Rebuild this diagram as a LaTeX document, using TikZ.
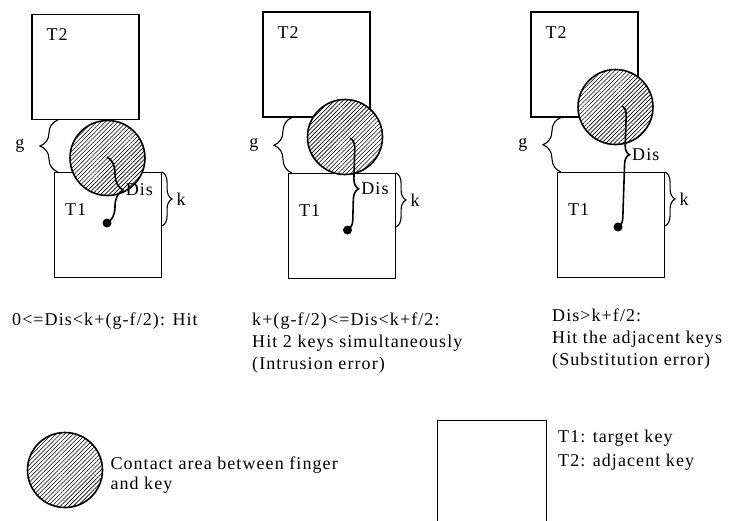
\documentclass[tikz,border=0pt]{standalone}
\usepackage{fontspec}
\newfontfamily\figfont[LetterSpace=6]{Liberation Serif}
\usetikzlibrary{positioning,patterns.meta,decorations.pathreplacing}

\begin{document}
\begin{tikzpicture}[x=1pt,y=-1pt,
  keybox/.style={draw,line width=1.1pt,minimum width=107pt,minimum height=105pt,inner sep=0pt},
  contact/.style={circle,draw,line width=1.6pt,minimum size=75pt,inner sep=0pt,preaction={fill=white},
    pattern={Lines[angle=45,distance=3pt,line width=0.6pt]}},
  fingerdot/.style={circle,fill,minimum size=9pt,inner sep=0pt},
  brc/.style={decorate,decoration={brace,amplitude=#1},line width=1.1pt},
  lbl/.style={font=\figfont\fontsize{18}{22}\selectfont,inner sep=0pt,align=left}]
\useasboundingbox (0,0) rectangle (730,520);
% three cases: T2 centre, T1 centre, contact centre, start of Dis, finger point, amplitude, aspect
\foreach \i/\tx/\ty/\kx/\ky/\cx/\cy/\px/\py/\dx/\dy/\a/\s in {
    1/85.5/67/108/225/107.5/158/107/157/107/223/16/0.5,
    2/316.5/64.5/342/226/345/137/350/138/347.5/230/10/0.55,
    3/584.5/64.5/611/225/615.5/107/622/106/618/227/9/0.4} {
  \node[keybox] (t2\i) at (\tx,\ty) {};
  \node[keybox] (t1\i) at (\kx,\ky) {};
  \node[lbl,anchor=west] (n2\i) at ([xshift=15pt,yshift=-21pt]t2\i.north west) {T2};
  \node[lbl,anchor=west] (n1\i) at ([xshift=11pt,yshift=-38pt]t1\i.north west) {T1};
  \node[contact] (f\i) at (\cx,\cy) {};
  % gap between the keys
  \coordinate (gb\i) at ([xshift=4pt]t1\i.north west);
  \coordinate (gt\i) at (gb\i |- t2\i.south);
  \draw[brc=18] (gb\i) -- (gt\i) node[lbl,midway,anchor=east,xshift=-33pt] (g\i) {g};
  % key half height
  \coordinate (kt\i) at (t1\i.north east);
  \coordinate (kb\i) at ([yshift=-54pt]t1\i.north east);
  \draw[brc=10] (kt\i) -- (kb\i) node[lbl,midway,anchor=west,xshift=14pt] (k\i) {k};
  % distance finger to key centre
  \coordinate (p\i) at (\px,\py);
  \node[fingerdot] (d\i) at (\dx,\dy) {};
  \draw[decorate,decoration={brace,amplitude=\a,aspect=\s},line width=1.6pt] (p\i) -- (d\i.center)
    node[lbl,pos=\s,anchor=west,xshift=\a+2] (dis\i) {Dis};
}
\node[lbl,anchor=base west] (r1) at (12,325) {0<=Dis<k+(g-f/2): Hit};
\node[lbl,anchor=base west] (r2) at (252,369) {k+(g-f/2)<=Dis<k+f/2:\\Hit 2 keys simultaneously\\(Intrusion error)};
\node[lbl,anchor=base west] (r3) at (552,365) {Dis>k+f/2:\\Hit the adjacent keys\\(Substitution error)};
% legend
\node[contact] (leg) at (65,470) {};
\node[lbl,right=7pt of leg,yshift=-5pt] (legtxt) {Contact area between finger\\[-2pt]and key};
\node[keybox,minimum width=109pt,minimum height=110pt,anchor=north west] (legkey) at (437,420) {};
\node[lbl,anchor=base west] (legdef) at (558,466) {T1: target key\\[2pt]T2: adjacent key};
\end{tikzpicture}
\end{document}
